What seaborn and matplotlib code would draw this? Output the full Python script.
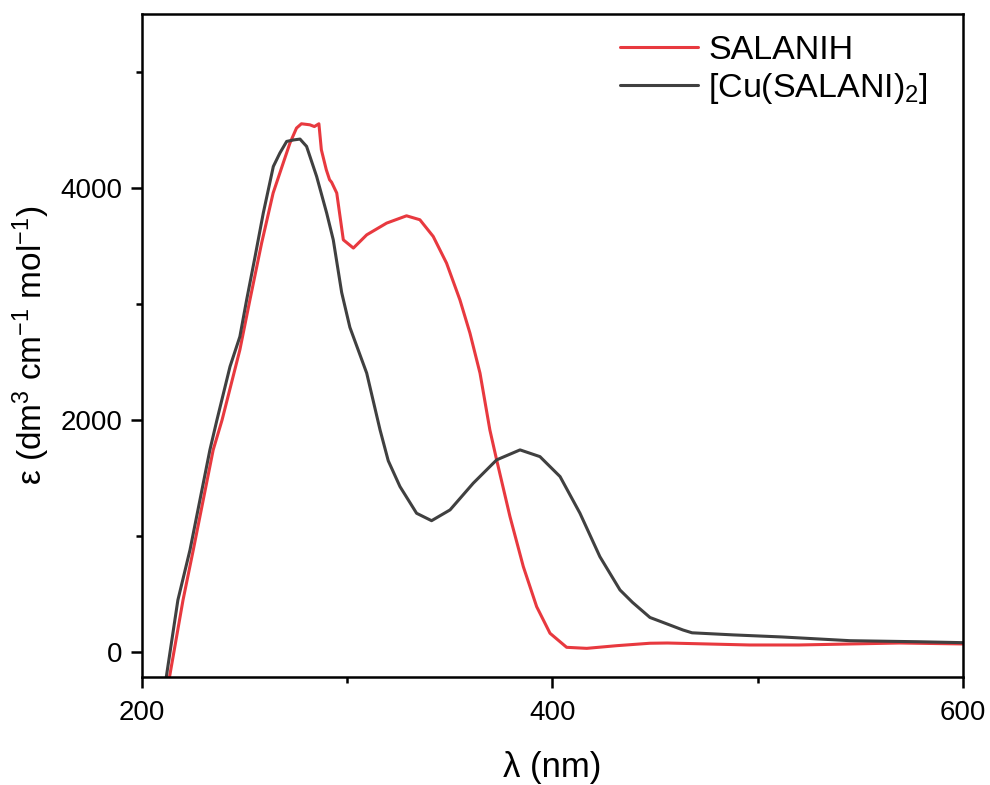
import numpy as np
import pandas as pd
import matplotlib
matplotlib.use("Agg")
import matplotlib.pyplot as plt
import seaborn as sns
from matplotlib.ticker import MultipleLocator

# ---- data ----
salanih_nm = [213.0, 213.6, 220.0, 225.0, 234.7, 239.0, 247.7, 252.6, 258.3, 263.9,
              268.8, 272.1, 275.3, 277.7, 281.8, 284.0, 286.2, 287.4, 289.8, 291.4,
              292.4, 294.9, 298.1, 303.0, 309.5, 319.2, 328.9, 335.4, 341.9, 348.4,
              354.9, 359.8, 364.7, 369.5, 372.8, 379.3, 385.8, 392.3, 398.8, 406.9,
              416.7, 431.3, 447.5, 456.0, 496.0, 520.0, 569.0, 600.0]
salanih_eps = [-250, -195, 450, 882, 1744, 2000, 2606, 3037, 3526, 3957,
               4215, 4388, 4517, 4554, 4545, 4530, 4554, 4330, 4158, 4072,
               4050, 3957, 3554, 3483, 3597, 3698, 3761, 3727, 3583, 3353,
               3037, 2750, 2405, 1916, 1658, 1169, 738, 393, 164, 43,
               34, 57, 78, 80, 63, 63, 80, 72]

cu_nm = [211.5, 212.0, 217.5, 223.4, 233.1, 236.5, 242.9, 247.7, 251.0, 255.0,
         259.1, 264.0, 267.2, 270.5, 274.0, 277.0, 280.2, 285.1, 290.0, 293.2,
         297.3, 301.3, 309.5, 316.0, 320.0, 325.7, 333.8, 341.1, 350.1, 361.4,
         372.8, 384.2, 393.9, 403.7, 413.4, 423.1, 432.9, 439.0, 447.5, 452.0,
         463.6, 468.0, 488.0, 512.0, 545.0, 578.0, 600.0]
cu_eps = [-250, -195, 450, 882, 1744, 2000, 2462, 2720, 3037, 3400,
          3784, 4186, 4302, 4402, 4415, 4422, 4359, 4100, 3784, 3554,
          3100, 2800, 2405, 1916, 1650, 1428, 1198, 1134, 1227, 1457,
          1658, 1744, 1686, 1514, 1198, 824, 537, 430, 300, 270,
          192, 168, 150, 132, 100, 91, 83]

labels = ["SALANIH", "[Cu(SALANI)$_2$]"]
colors = ["#e8393f", "#404040"]

df = pd.concat([
    pd.DataFrame({"nm": salanih_nm, "eps": salanih_eps, "compound": labels[0]}),
    pd.DataFrame({"nm": cu_nm, "eps": cu_eps, "compound": labels[1]}),
], ignore_index=True)

sns.set_style("ticks")
plt.rcParams["font.family"] = ["Liberation Sans", "DejaVu Sans"]
plt.rcParams["mathtext.default"] = "regular"
plt.rcParams["text.color"] = "black"
plt.rcParams["axes.labelcolor"] = "black"

fig = plt.figure(figsize=(9.9, 7.85), dpi=100)
ax = fig.add_axes([0.1434, 0.138, 0.8293, 0.8442])

sns.lineplot(data=df, x="nm", y="eps", hue="compound", hue_order=labels,
             palette=dict(zip(labels, colors)), sort=False, estimator=None,
             linewidth=2.2, ax=ax)

ax.set_xlim(200, 600)
ax.set_ylim(-210, 5500)
ax.xaxis.set_major_locator(MultipleLocator(200))
ax.xaxis.set_minor_locator(MultipleLocator(100))
ax.yaxis.set_major_locator(MultipleLocator(2000))
ax.yaxis.set_minor_locator(MultipleLocator(1000))

for s in ax.spines.values():
    s.set_visible(True)
    s.set_linewidth(1.8)
    s.set_color("black")

ax.tick_params(axis="x", which="major", pad=9)
ax.tick_params(which="major", direction="out", length=8, width=1.8,
               labelsize=20, colors="black")
ax.tick_params(axis="y", which="major", pad=6)
ax.tick_params(which="minor", direction="out", length=4, width=1.8, colors="black")

ax.set_xlabel("λ (nm)", fontsize=25, labelpad=18, color="black")
ax.set_ylabel("ε (dm$^3$ cm$^{-1}$ mol$^{-1}$)", fontsize=24, labelpad=6, color="black")

leg = ax.legend(loc="upper left", bbox_to_anchor=(0.582, 0.968), frameon=False,
                fontsize=24.5, handlelength=2.3, handletextpad=0.3,
                labelspacing=0.15, borderpad=0, borderaxespad=0)
for line in leg.get_lines():
    line.set_linewidth(2.2)
for t in leg.get_texts():
    t.set_color("black")

fig.savefig("out.png", dpi=100)
